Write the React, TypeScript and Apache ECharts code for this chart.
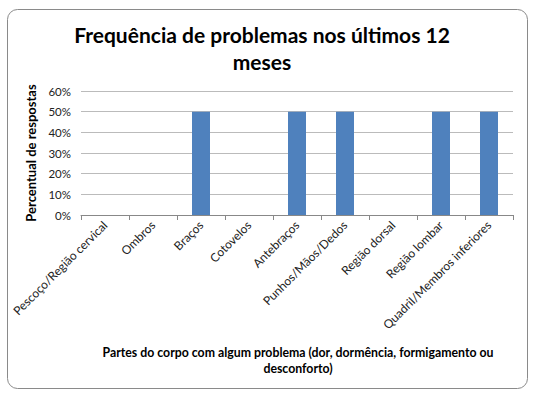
import React, { useEffect, useRef } from "react";
import * as echarts from "echarts";

const categories = [
  "Pescoço/Região cervical",
  "Ombros",
  "Braços",
  "Cotovelos",
  "Antebraços",
  "Punhos/Mãos/Dedos",
  "Região dorsal",
  "Região lombar",
  "Quadril/Membros inferiores",
];
const values = [0, 0, 50, 0, 50, 50, 0, 50, 50];
const titleLines = ["Frequência de problemas nos últimos 12", "meses"];
const xAxisTitle = [
  "Partes do corpo com algum problema (dor, dormência, formigamento ou",
  "desconforto)",
];
const yAxisTitle = "Percentual de respostas";

const FONT = "Lato, 'Open Sans', sans-serif";

export default function App() {
  const ref = useRef<HTMLDivElement>(null);
  useEffect(() => {
    document.body.style.margin = "0";
    const chart = echarts.init(ref.current!, null, { renderer: "svg" });
    chart.setOption({
      animation: false,
      backgroundColor: "#fff",
      textStyle: { fontFamily: FONT },
      graphic: [
        {
          type: "rect",
          shape: { x: 7.5, y: 9.5, width: 520, height: 379, r: 10 },
          style: { fill: "none", stroke: "#8a8a8a", lineWidth: 1 },
          silent: true,
        },
        {
          type: "text",
          x: 262,
          y: 21,
          style: {
            text: titleLines.join("\n"),
            font: `bold 21px ${FONT}`,
            fill: "#000",
            align: "center",
            lineHeight: 27,
          },
        },
        {
          type: "text",
          x: 298,
          y: 344,
          style: {
            text: xAxisTitle.join("\n"),
            font: `bold 12.3px ${FONT}`,
            fill: "#000",
            align: "center",
            lineHeight: 16,
          },
        },
      ],
      grid: { left: 81, right: 22, top: 91, bottom: 180, containLabel: false },
      xAxis: {
        type: "category",
        data: categories,
        axisLine: { show: true, lineStyle: { color: "#888" } },
        axisTick: { show: true, length: 5, lineStyle: { color: "#888" } },
        axisLabel: {
          rotate: 45,
          interval: 0,
          fontSize: 12,
          color: "#222",
          fontFamily: FONT,
          margin: 8,
        },
      },
      yAxis: {
        type: "value",
        min: 0,
        max: 60,
        interval: 10,
        name: yAxisTitle,
        nameLocation: "middle",
        nameRotate: 90,
        nameGap: 42,
        nameTextStyle: { fontWeight: "bold", fontSize: 13, color: "#000", fontFamily: FONT },
        axisLine: { show: false },
        axisTick: { show: false },
        axisLabel: { formatter: "{value}%", fontSize: 11.5, color: "#222", fontFamily: FONT, margin: 10 },
        splitLine: { lineStyle: { color: "#bbb" } },
      },
      series: [
        {
          type: "bar",
          data: values,
          barWidth: 18,
          itemStyle: { color: "#4F81BD" },
        },
      ],
    });
    return () => chart.dispose();
  }, []);
  return <div ref={ref} style={{ width: 535, height: 395 }} />;
}
